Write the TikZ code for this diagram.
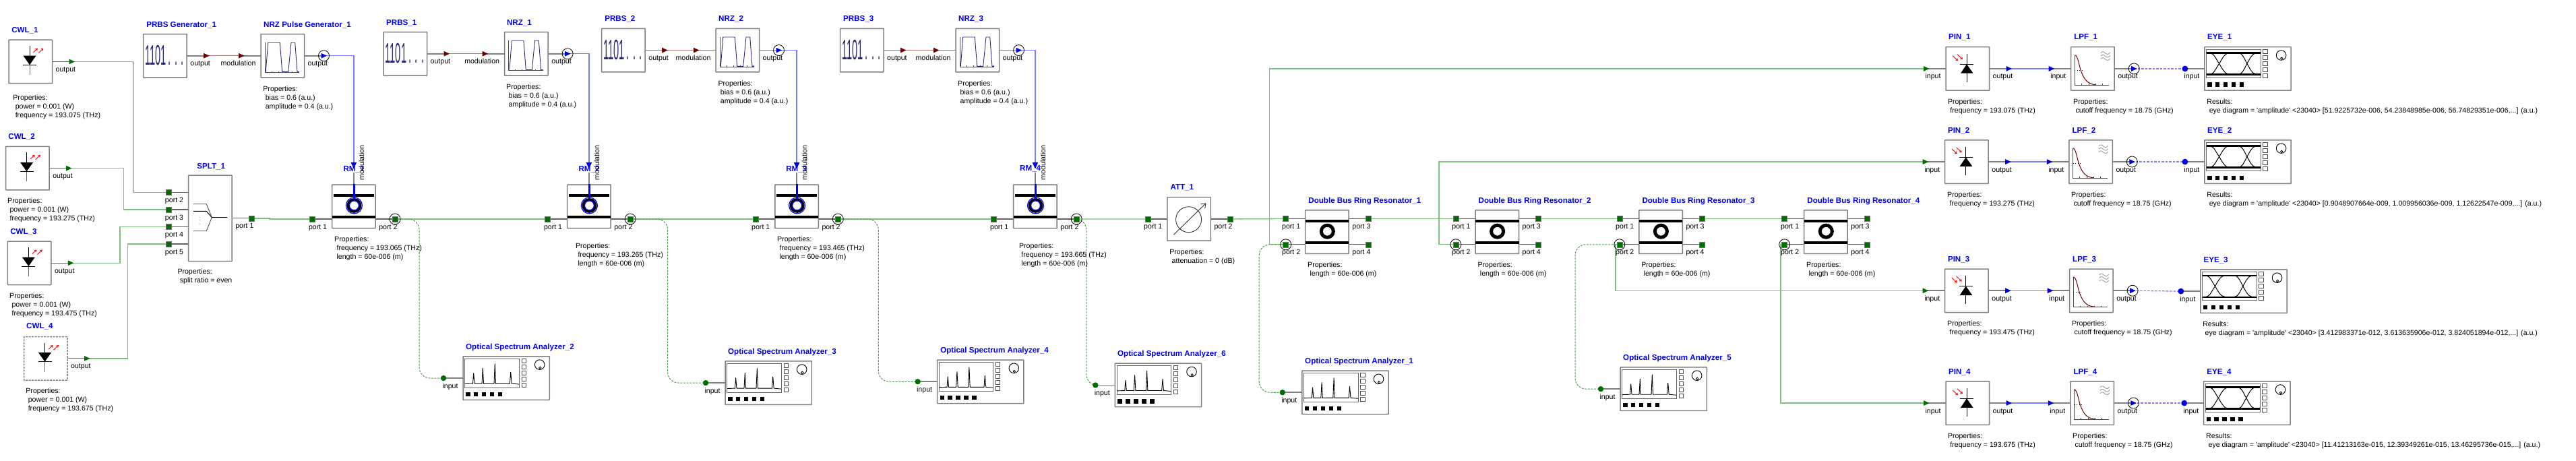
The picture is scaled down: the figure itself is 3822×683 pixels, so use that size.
\documentclass[tikz,border=0pt]{standalone}
\usepackage{fontspec}
\usepackage{graphicx}
\setmainfont{Liberation Sans}
\usetikzlibrary{calc,arrows.meta}
\pgfdeclarelayer{links}\pgfdeclarelayer{wires}\pgfdeclarelayer{paper}
\pgfsetlayers{paper,links,wires,main}
\definecolor{pgreen}{HTML}{006E00}
\definecolor{lgreen}{HTML}{7CC07C}
\definecolor{dgreen}{HTML}{2E8B2E}
\definecolor{lblue}{HTML}{7C7CFF}
\definecolor{lred}{HTML}{B87878}
\definecolor{dred}{HTML}{700000}
\definecolor{indig}{HTML}{2A2A7A}
\definecolor{boxgray}{HTML}{808080}
\newcommand\txtfont{\fontsize{10.6pt}{13.05pt}\selectfont}
\newcommand\ttlfont{\fontsize{11.6pt}{13.05pt}\selectfont\bfseries}
\tikzset{
 cbox/.style={draw=boxgray,line width=1.5pt,fill=white,minimum width=64.5pt,minimum height=64.5pt,inner sep=0pt,outer sep=0pt,anchor=north west,rounded corners=.5pt},
 wbox/.style={cbox,minimum width=128.3pt},
 ptn/.style={circle,inner sep=0pt,minimum size=0pt,outer sep=0pt},
 plb/.style={font=\txtfont,inner sep=0pt,text=black},
 ttlst/.style={font=\ttlfont,text=blue,inner sep=0pt,anchor=base west},
 prpst/.style={font=\txtfont,inner sep=0pt,anchor=north west,align=left,text=black},
 wire/.style={draw=black!62,line width=1.2pt},
 wthick/.style={draw=boxgray,line width=1.6pt},
 lg/.style={draw=lgreen,line width=1.3pt},
 ld/.style={draw=dgreen!60!lgreen,line width=1pt,dash pattern=on 3pt off 1.6pt,rounded corners=16pt},
 lb/.style={draw=lblue,line width=1.4pt},
 lbd/.style={draw=lblue,line width=1.3pt,dash pattern=on 3.5pt off 2pt},
 lr/.style={draw=lred,line width=1.4pt},
}
% port symbols
\newcommand\symG[1]{\fill[pgreen] ($(#1)+(-4,-3.9)$) -- ($(#1)+(4.5,0)$) -- ($(#1)+(-4,3.9)$) -- cycle;}
\newcommand\symR[1]{\fill[dred] ($(#1)+(-4,-3.9)$) -- ($(#1)+(4.5,0)$) -- ($(#1)+(-4,3.9)$) -- cycle;}
\newcommand\symB[1]{\fill[blue!90!black] ($(#1)+(-4,-3.9)$) -- ($(#1)+(4.5,0)$) -- ($(#1)+(-4,3.9)$) -- cycle;}
\newcommand\symBC[1]{\symB{#1}\draw[black,line width=.8pt] (#1) circle[radius=8pt];}
\newcommand\symS[1]{\filldraw[fill=pgreen,draw=black!55,line width=.6pt] ($(#1)+(-4,-4)$) rectangle ($(#1)+(4,4)$);}
\newcommand\symSC[1]{\symS{#1}\draw[black,line width=.8pt] (#1) circle[radius=8pt];}
\newcommand\symO[1]{\fill[pgreen] (#1) circle[radius=4.2pt];}
\newcommand\symU[1]{\fill[blue!90!black] (#1) circle[radius=4.4pt];}
% ports: symbol, id, box, dy, label, wire style
\newcommand\Rport[6]{\node[ptn] (#2) at ($(#3.east)+(29,#4)$) {};
 \begin{pgfonlayer}{wires}\draw[#6] (#2.center) -- (#2.center -| #3.east);\end{pgfonlayer}
 #1{#2}\node[plb,anchor=base west] (#2-l) at ($(#2)+(-24,15)$) {#5};}
\newcommand\Lport[6]{\node[ptn] (#2) at ($(#3.west)+(-29,#4)$) {};
 \begin{pgfonlayer}{wires}\draw[#6] (#2.center) -- (#2.center -| #3.west);\end{pgfonlayer}
 #1{#2}\node[plb,anchor=base east] (#2-l) at ($(#2)+(21.7,15)$) {#5};}
\newcommand\ttl[4]{\node[ttlst] (#1-t) at (#2,#3+4) {#4};}
\newcommand\prp[4]{\node[prpst] (#1-p) at (#2,#3-6) {\rule{0pt}{10pt}#4};}
\newcommand\ind{\hspace*{3.4pt}}
% icons
\newcommand\icCWL[1]{\begin{scope}[shift={(#1.north west)}]
 \draw[black!60,line width=1pt] (31,30) -- (31,52);
 \draw[black,line width=1pt] (31,9) -- (31,30);
 \fill[black] (21.5,23.5) -- (40.5,23.5) -- (31,37) -- cycle;
 \draw[black,line width=1pt] (21,37) -- (41,37);
 \draw[red,line width=.9pt,-{Straight Barb[length=2.5pt,width=3.5pt]}] (36.5,18.5) -- (43,12.5);
 \draw[red,line width=.9pt,-{Straight Barb[length=2.5pt,width=3.5pt]}] (44,19.5) -- (51.4,12.5);
\end{scope}}
\newcommand\icPIN[1]{\begin{scope}[shift={(#1.north west)}]
 \draw[black,line width=1pt] (31,10) -- (31,52);
 \fill[black] (22,39) -- (40.5,39) -- (31,25.5) -- cycle;
 \draw[black,line width=1.2pt] (21,25.5) -- (41,25.5);
 \draw[red,line width=.9pt,-{Straight Barb[length=2.5pt,width=3.5pt]}] (10,13) -- (18,20.5);
 \draw[red,line width=.9pt,-{Straight Barb[length=2.5pt,width=3.5pt]}] (17,11) -- (25,18.5);
\end{scope}}
\newcommand\icPRBS[1]{\begin{scope}[shift={(#1.north west)}]
 \node[inner sep=0pt,anchor=base west,text=indig,font=\fontsize{15pt}{15pt}\selectfont] (#1-i) at (2.5,46) {\scalebox{.98}[2.8]{1101\hspace{3pt}.\hspace{5.5pt}.\hspace{5.5pt}.}};
\end{scope}}
\newcommand\icNRZ[1]{\begin{scope}[shift={(#1.north west)}]
 \draw[black!70,line width=.8pt] (6,12.7) -- (6,57.7);
 \draw[black!70,line width=.8pt] (6,56.7) -- (57.3,56.7);
 \foreach \t in {16,26,36,46,56}{\draw[black!70,line width=.7pt] (\t,55) -- (\t,57.5);}
 \draw[indig,line width=.9pt] (7.3,56) -- (10.7,12.7) -- (28.3,12.7) -- (31.7,56) -- (40.7,56) -- (45,12.7) -- (50.7,12.7) -- (54,56) -- (57,56);
\end{scope}}
\newcommand\icRM[1]{\begin{scope}[shift={(#1.north west)}]
 \fill[black] (2.5,13.5) rectangle (62,17.5);
 \fill[black] (0,46.3) rectangle (64.5,50.3);
 \draw[blue,line width=1.2pt] (32.8,30.9) circle[radius=12pt];
 \draw[black,line width=3.8pt] (32.8,30.9) circle[radius=9pt];
 \draw[blue,line width=2.6pt] (32.8,-.8) -- (32.8,22);
 \draw[blue,line width=1.3pt] (32.8,30.9) circle[radius=7pt];
 \draw[wthick,line width=1.5pt] (32.2,-18.5) -- (32.2,-1);
\end{scope}}
\newcommand\icDB[1]{\begin{scope}[shift={(#1.north west)}]
 \fill[black] (0,14) rectangle (64.5,18.4);
 \fill[black] (0,46) rectangle (64.5,50.4);
 \draw[black,line width=5pt] (32.6,31.3) circle[radius=9pt];
\end{scope}}
\newcommand\icSP[1]{\begin{scope}[shift={(#1.north west)}]
 \draw[black!70,line width=.9pt] (7.3,42.7) -- (26.7,42.7) -- (34.7,62.7) -- (26.7,82.7) -- (7.3,82.7);
 \draw[black,line width=.9pt] (7.3,53.3) -- (26.7,53.3) -- (34.7,62.7);
 \draw[black,line width=1.5pt] (34.7,62.7) -- (57.3,62.7);
 \foreach \t in {62.7,66.7,72.3}{\fill[black!70] (16.5,\t) circle[radius=.55pt];}
\end{scope}}
\newcommand\icATT[1]{\begin{scope}[shift={(#1.north west)}]
 \draw[black!80,line width=.9pt] (31.8,33) circle[radius=19pt];
 \draw[black!80,line width=.9pt,-{Straight Barb[length=6pt,width=9pt]}] (9.4,55.7) -- (57.6,8.7);
\end{scope}}
\newcommand\icLPF[1]{\begin{scope}[shift={(#1.north west)}]
 \draw[black!70,line width=.9pt] (5.7,12) -- (5.7,56.5) -- (56.7,56.5);
 \foreach \t in {16,27,37,47}{\draw[black!80,line width=.8pt] (\t,54.5) -- (\t,56.5);}
 \draw[black,dash pattern=on 1pt off 2.5pt,line width=.7pt] (5.7,34.5) -- (17,34.5);
 \draw[dred,line width=1pt] (5.7,12) .. controls (10,12) and (12,28) .. (15,36) .. controls (19,47) and (24,55) .. (36,56);
 \foreach \d in {0,4.5,9}{\draw[black!38,line width=.9pt] (44,{9+\d}) .. controls (47,{5+\d}) and (50,{8+\d}) .. (52,{10+\d}) .. controls (54,{12+\d}) and (56,{11+\d}) .. (58,{8+\d});}
\end{scope}}
\newcommand\panel{
 \foreach \t in {6.7,15.7,24.7,33.7,42.7}{\draw[black!70,line width=.9pt,fill=white] (87,\t-3) rectangle (93.3,\t+3);}
 \draw[black,line width=.9pt] (113.7,12.3) circle[radius=7.3pt];
 \draw[black,line width=.8pt] (114.3,17) circle[radius=1.7pt];
 \foreach \t in {7.3,19,31,43,55}{\fill[black] (\t-3.3,52.7) rectangle (\t+3.3,59.4);}
}
\newcommand\icOSA[1]{\begin{scope}[shift={(#1.north west)}]
 \draw[black!60,line width=1pt] (2.7,3.3) rectangle (83.3,46.3);
 \draw[black,line width=.9pt] (3,40.7) -- (14.5,40.3) -- (15.7,24.7) -- (17,40.3) -- (28,40.3) -- (29.3,17.3) -- (30.6,40.3) -- (46,40.3) -- (47.3,10.7) -- (48.6,40.3) -- (69.4,40.3) -- (70.7,23) -- (72.2,40.3) -- (83,41.3);
 \panel
\end{scope}}
\newcommand\icEYE[1]{\begin{scope}[shift={(#1.north west)}]
 \draw[black!60,line width=1pt] (2.7,3.3) rectangle (83.3,46);
 \draw[black,line width=2.2pt] (3,8.7) -- (83,8.7) (3,40.7) -- (83,40.7);
 \draw[black,line width=1pt] (3,8.7) -- (9,9) .. controls (14,10) and (17,18) .. (21.7,24.7) .. controls (26,32) and (30,40.5) .. (37,40.7) -- (50,40.7) .. controls (56,40.5) and (59,32) .. (63,24.7) .. controls (67,18) and (70,10) .. (76,9) -- (83,8.7);
 \draw[black,line width=1pt] (3,40.7) -- (9,40.4) .. controls (14,39.4) and (17,31.4) .. (21.7,24.7) .. controls (26,17.4) and (30,8.9) .. (37,8.7) -- (50,8.7) .. controls (56,8.9) and (59,17.4) .. (63,24.7) .. controls (67,31.4) and (70,39.4) .. (76,40.4) -- (83,40.7);
 \panel
\end{scope}}
% composite blocks
\newcommand\mkRM[8]{\node[cbox] (#1) at (#2,274) {};
 \Lport\symS{#1a}{#1}{18.75}{port 1}{wire}\Rport\symSC{#1b}{#1}{18.75}{port 2}{wire}
 \node[ptn] (#1m) at ($(#1.north)+(0,-28.3)$) {};
 \ttl{#1}{#3}{#4}{#7}\icRM{#1}
 \fill[blue!90!black] ($(#1m)+(-4.3,-4.8)$) -- ($(#1m)+(4.3,-4.8)$) -- ($(#1m)+(0,4.8)$) -- cycle;
 \node[plb,rotate=90,anchor=base] (#1m-l) at ($(#1.north west)+(47.5,-32.7)$) {modulation};
 \prp{#1}{#5}{#6}{Properties:\\\ind frequency = #8 (THz)\\\ind length = 60e-006 (m)}}
\newcommand\mkOSA[5]{\node[wbox] (#1) at (#2,#3) {};\icOSA{#1}
 \node[ptn] (#1i) at ($(#1.west)+(-29,0)$) {};
 \begin{pgfonlayer}{wires}\draw[wthick] (#1i.center) -- (#1i.center -| #1.west);\end{pgfonlayer}
 \symO{#1i}\node[plb,anchor=base east] (#1i-l) at ($(#1i)+(21.7,15)$) {input};
 \ttl{#1}{#4}{#3-14.8}{Optical Spectrum Analyzer\_#5}}
\newcommand\mkDB[4]{\node[cbox] (#1) at (#2,311.9) {};\icDB{#1}
 \Lport\symS{#1a}{#1}{-19.65}{port 1}{wire}\Lport{#4}{#1b}{#1}{18.65}{port 2}{wire}
 \Rport\symS{#1c}{#1}{-19.65}{port 3}{wire}\Rport\symS{#1d}{#1}{18.65}{port 4}{wire}
 \ttl{#1}{#2+4.5}{297}{Double Bus Ring Resonator\_#3}\prp{#1}{#2+3.3}{392}{Properties:\\\ind length = 60e-006 (m)}}
\newcommand\mkPIN[7]{\node[cbox] (#1) at (#2,#3) {};\icPIN{#1}
 \Lport\symG{#1i}{#1}{0}{input}{wthick}\Rport\symB{#1o}{#1}{0}{output}{wthick}
 \ttl{#1}{#4}{#3-14.8}{#6}\prp{#1}{#5}{#3+80.6}{Properties:\\\ind frequency = #7 (THz)}}
\newcommand\mkLPF[6]{\node[cbox] (#1) at (#2,#3) {};\icLPF{#1}
 \Lport\symB{#1i}{#1}{0}{input}{wthick}\Rport\symBC{#1o}{#1}{0}{output}{wthick}
 \ttl{#1}{#4}{#3-14.8}{#6}\prp{#1}{#5}{#3+80.6}{Properties:\\\ind cutoff frequency = 18.75 (GHz)}}
\newcommand\mkEYE[6]{\node[wbox] (#1) at (#2,#3) {};\icEYE{#1}
 \node[ptn] (#1i) at ($(#1.west)+(-29,0)$) {};
 \begin{pgfonlayer}{wires}\draw[wthick] (#1i.center) -- (#1i.center -| #1.west);\end{pgfonlayer}
 \symU{#1i}\node[plb,anchor=base east] (#1i-l) at ($(#1i)+(21.7,15)$) {input};
 \ttl{#1}{#4}{#3-14.8}{EYE\_#5}\prp{#1}{#2+3.3}{#3+80.6}{Results:\\\ind eye diagram = \textquotesingle amplitude\textquotesingle{} <23040> #6 (a.u.)}}
\begin{document}
\begin{tikzpicture}[x=1pt,y=-1pt,line join=miter]
\begin{pgfonlayer}{paper}\fill[white] (0,0) rectangle (3822,683);\end{pgfonlayer}
\useasboundingbox (0,0) rectangle (3822,683);
%---- lasers
\node[cbox] (cwlA) at (13,59.2) {};\icCWL{cwlA}\Rport\symG{cwlAo}{cwlA}{0}{output}{wire}
\ttl{cwlA}{17.1}{44}{CWL\_1}\prp{cwlA}{19.2}{144.2}{Properties:\\\ind power = 0.001 (W)\\\ind frequency = 193.075 (THz)}
\node[cbox] (cwlB) at (8.6,217.4) {};\icCWL{cwlB}\Rport\symG{cwlBo}{cwlB}{0}{output}{wire}
\ttl{cwlB}{12.2}{202.1}{CWL\_2}\prp{cwlB}{11}{297}{Properties:\\\ind power = 0.001 (W)\\\ind frequency = 193.275 (THz)}
\node[cbox] (cwlC) at (11.4,358) {};\icCWL{cwlC}\Rport\symG{cwlCo}{cwlC}{0}{output}{wire}
\ttl{cwlC}{15.1}{343.2}{CWL\_3}\prp{cwlC}{14}{438}{Properties:\\\ind power = 0.001 (W)\\\ind frequency = 193.475 (THz)}
\node[cbox,dashed,dash pattern=on 3pt off 1.5pt] (cwlD) at (35.5,499.6) {};\icCWL{cwlD}\Rport\symG{cwlDo}{cwlD}{0}{output}{wire}
\ttl{cwlD}{39}{483.9}{CWL\_4}\prp{cwlD}{38.2}{578.9}{Properties:\\\ind power = 0.001 (W)\\\ind frequency = 193.675 (THz)}
%---- splitter
\node[cbox,minimum height=127.7pt] (splt) at (279.6,260) {};\icSP{splt}
\Lport\symS{spB}{splt}{-38.5}{port 2}{wire}
\Lport\symS{spC}{splt}{-12.8}{port 3}{wire}
\Lport\symS{spD}{splt}{12.5}{port 4}{wire}
\Lport\symS{spE}{splt}{38.2}{port 5}{wire}
\Rport\symS{spA}{splt}{0}{port 1}{wire}
\ttl{splt}{292.2}{246}{SPLT\_1}\prp{splt}{263.3}{402}{Properties:\\\ind split ratio = even}
%---- generators
\node[cbox] (prbsA) at (212.7,50.5) {};\icPRBS{prbsA}\Rport\symR{prbsAo}{prbsA}{0}{output}{wthick}
\ttl{prbsA}{217.1}{36.2}{PRBS Generator\_1}
\node[cbox] (nrzA) at (387,50.5) {};\icNRZ{nrzA}\Lport\symR{nrzAi}{nrzA}{0}{modulation}{wthick}\Rport\symBC{nrzAo}{nrzA}{0}{output}{wthick}
\ttl{nrzA}{391}{36.2}{NRZ Pulse Generator\_1}\prp{nrzA}{390.2}{131.1}{Properties:\\\ind bias = 0.6 (a.u.)\\\ind amplitude = 0.4 (a.u.)}
\node[cbox] (prbsB) at (569,47.5) {};\icPRBS{prbsB}\Rport\symR{prbsBo}{prbsB}{0}{output}{wthick}
\ttl{prbsB}{573}{33.1}{PRBS\_1}
\node[cbox] (nrzB) at (748.6,47.5) {};\icNRZ{nrzB}\Lport\symR{nrzBi}{nrzB}{0}{modulation}{wthick}\Rport\symBC{nrzBo}{nrzB}{0}{output}{wthick}
\ttl{nrzB}{751.8}{33.1}{NRZ\_1}\prp{nrzB}{751}{128}{Properties:\\\ind bias = 0.6 (a.u.)\\\ind amplitude = 0.4 (a.u.)}
\node[cbox] (prbsC) at (892.7,42.3) {};\icPRBS{prbsC}\Rport\symR{prbsCo}{prbsC}{0}{output}{wthick}
\ttl{prbsC}{897.1}{27.9}{PRBS\_2}
\node[cbox] (nrzC) at (1062,42.3) {};\icNRZ{nrzC}\Lport\symR{nrzCi}{nrzC}{0}{modulation}{wthick}\Rport\symBC{nrzCo}{nrzC}{0}{output}{wthick}
\ttl{nrzC}{1066}{27.9}{NRZ\_2}\prp{nrzC}{1065.3}{123.3}{Properties:\\\ind bias = 0.6 (a.u.)\\\ind amplitude = 0.4 (a.u.)}
\node[cbox] (prbsD) at (1246.5,42.3) {};\icPRBS{prbsD}\Rport\symR{prbsDo}{prbsD}{0}{output}{wthick}
\ttl{prbsD}{1251}{27.9}{PRBS\_3}
\node[cbox] (nrzD) at (1418,42.3) {};\icNRZ{nrzD}\Lport\symR{nrzDi}{nrzD}{0}{modulation}{wthick}\Rport\symBC{nrzDo}{nrzD}{0}{output}{wthick}
\ttl{nrzD}{1422}{27.9}{NRZ\_3}\prp{nrzD}{1421}{123.3}{Properties:\\\ind bias = 0.6 (a.u.)\\\ind amplitude = 0.4 (a.u.)}
%---- ring modulators
\mkRM{rmA}{492.6}{509.4}{250.9}{496}{354.1}{RM\_1}{193.065}
\mkRM{rmB}{841.6}{858.4}{250.9}{853.9}{364.1}{RM\_2}{193.265}
\mkRM{rmC}{1149.8}{1166.1}{250.9}{1153}{354.1}{RM\_3}{193.465}
\mkRM{rmD}{1503.7}{1513}{249.2}{1511.8}{364.1}{RM\_4}{193.665}
%---- analysers
\mkOSA{osaB}{687}{528.8}{691}{2}
\mkOSA{osaC}{1076}{535.8}{1080}{3}
\mkOSA{osaD}{1390.6}{534}{1395.1}{4}
\mkOSA{osaF}{1654.3}{539.2}{1658}{6}
\mkOSA{osaA}{1931.8}{550}{1936}{1}
\mkOSA{osaE}{2404}{544.9}{2408}{5}
%---- attenuator
\node[cbox] (att) at (1731.8,292.7) {};\icATT{att}
\Lport\symS{atta}{att}{0}{port 1}{wire}\Rport\symS{attb}{att}{0}{port 2}{wire}
\ttl{att}{1736.3}{277.9}{ATT\_1}\prp{att}{1735.1}{373.3}{Properties:\\\ind attenuation = 0 (dB)}
%---- double bus rings
\mkDB{dbA}{1936.7}{1}{\symSC}
\mkDB{dbB}{2189}{2}{\symSC}
\mkDB{dbC}{2431.8}{3}{\symSC}
\mkDB{dbD}{2676.7}{4}{\symSC}
%---- receivers
\mkPIN{pinA}{2887}{69.7}{2891}{2889.8}{PIN\_1}{193.075}
\mkPIN{pinB}{2885.7}{207.8}{2889.8}{2889}{PIN\_2}{193.275}
\mkPIN{pinC}{2885.7}{399}{2889.8}{2889}{PIN\_3}{193.475}
\mkPIN{pinD}{2887}{565.8}{2891}{2889.8}{PIN\_4}{193.675}
\mkLPF{lpfA}{3072.7}{69.7}{3077.1}{3076}{LPF\_1}
\mkLPF{lpfB}{3069.8}{207.8}{3074.3}{3073}{LPF\_2}
\mkLPF{lpfC}{3070.6}{399}{3075}{3073.9}{LPF\_3}
\mkLPF{lpfD}{3071.8}{565.8}{3076.3}{3075}{LPF\_4}
\mkEYE{eyeA}{3270.9}{69.7}{3275}{1}{[51.9225732e-006, 54.23848985e-006, 56.74829351e-006,...]}
\mkEYE{eyeB}{3270.9}{207.8}{3275}{2}{[0.9048907664e-009, 1.009956036e-009, 1.12622547e-009,...]}
\mkEYE{eyeC}{3264.8}{399.9}{3269.3}{3}{[3.412983371e-012, 3.613635906e-012, 3.824051894e-012,...]}
\mkEYE{eyeD}{3269.7}{565.8}{3274.2}{4}{[11.41213163e-015, 12.39349261e-015, 13.46295736e-015,...]}
%---- rails
\coordinate (rA) at (197.6,0);\coordinate (rB) at (183.3,0);\coordinate (rC) at (178,0);\coordinate (rD) at (189.4,0);
\coordinate (rS) at (400,0);
\coordinate (r1) at (622,0);\coordinate (r2) at (990.6,0);\coordinate (r3) at (1303.3,0);\coordinate (r4) at (1611.8,0);
\coordinate (r5) at (1868.2,0);\coordinate (r6) at (2337,0);
\coordinate (p1) at (1883.3,0);\coordinate (p2) at (2135,0);\coordinate (p3) at (2397,0);\coordinate (p4) at (2642,0);
%---- links
\begin{pgfonlayer}{links}
\draw[lg] (cwlAo.center) -| (rA |- spB.center) -- (spB.center);
\draw[draw=dgreen,line width=1pt] (rA |- cwlAo.center) -- (rA |- spB.center);
\draw[lg] (cwlBo.center) -| (rB |- spC.center) -- (spC.center);
\draw[lg] (cwlCo.center) -| (rC |- spD.center) -- (spD.center);
\draw[lg] (cwlDo.center) -| (rD |- spE.center) -- (spE.center);
\draw[lg] (spA.center) -| (rS |- rmAa.center) -- (rmAa.center);
\draw[lr] (prbsAo.center) -- (nrzAi.center);
\draw[lr] (prbsBo.center) -- (nrzBi.center);
\draw[lr] (prbsCo.center) -- (nrzCi.center);
\draw[lr] (prbsDo.center) -- (nrzDi.center);
\draw[lb] (nrzAo.center) -| (rmAm.center);
\draw[lb] (nrzBo.center) -| (rmBm.center);
\draw[lb] (nrzCo.center) -| (rmCm.center);
\draw[lb] (nrzDo.center) -| (rmDm.center);
\draw[lg] (rmAb.center) -- (rmBa.center);
\draw[lg] (rmBb.center) -- (rmCa.center);
\draw[lg] (rmCb.center) -- (rmDa.center);
\draw[lg] (rmDb.center) -- (atta.center);
\draw[lg] (attb.center) -- (dbAa.center);
\draw[lg] (dbAc.center) -- (dbBa.center);
\draw[lg] (dbBc.center) -- (dbCa.center);
\draw[lg] (dbCc.center) -- (dbDa.center);
\draw[lg] (dbAb.center) -| (p1 |- pinAi.center) -- (pinAi.center);
\draw[lg] (dbBb.center) -| (p2 |- pinBi.center) -- (pinBi.center);
\draw[lg] (dbCb.center) -| (p3 |- pinCi.center) -- (pinCi.center);
\draw[lg] (dbDb.center) -| (p4 |- pinDi.center) -- (pinDi.center);
\draw[ld] (rmAb.center) -| (r1 |- osaBi.center) -- (osaBi.center);
\draw[ld] (rmBb.center) -| (r2 |- osaCi.center) -- (osaCi.center);
\draw[ld] (rmCb.center) -| (r3 |- osaDi.center) -- (osaDi.center);
\draw[ld] (rmDb.center) -| (r4 |- osaFi.center) -- (osaFi.center);
\draw[ld] (dbAb.center) -| (r5 |- osaAi.center) -- (osaAi.center);
\draw[ld] (dbCb.center) -| (r6 |- osaEi.center) -- (osaEi.center);
\draw[lb] (pinAo.center) -- (lpfAi.center);
\draw[lb] (pinBo.center) -- (lpfBi.center);
\draw[lb] (pinCo.center) -- (lpfCi.center);
\draw[lb] (pinDo.center) -- (lpfDi.center);
\draw[lbd] (lpfAo.center) -- (eyeAi.center);
\draw[lbd] (lpfBo.center) -- (eyeBi.center);
\draw[lbd] (lpfCo.center) -- (eyeCi.center);
\draw[lbd] (lpfDo.center) -- (eyeDi.center);
\end{pgfonlayer}
\end{tikzpicture}
\end{document}
